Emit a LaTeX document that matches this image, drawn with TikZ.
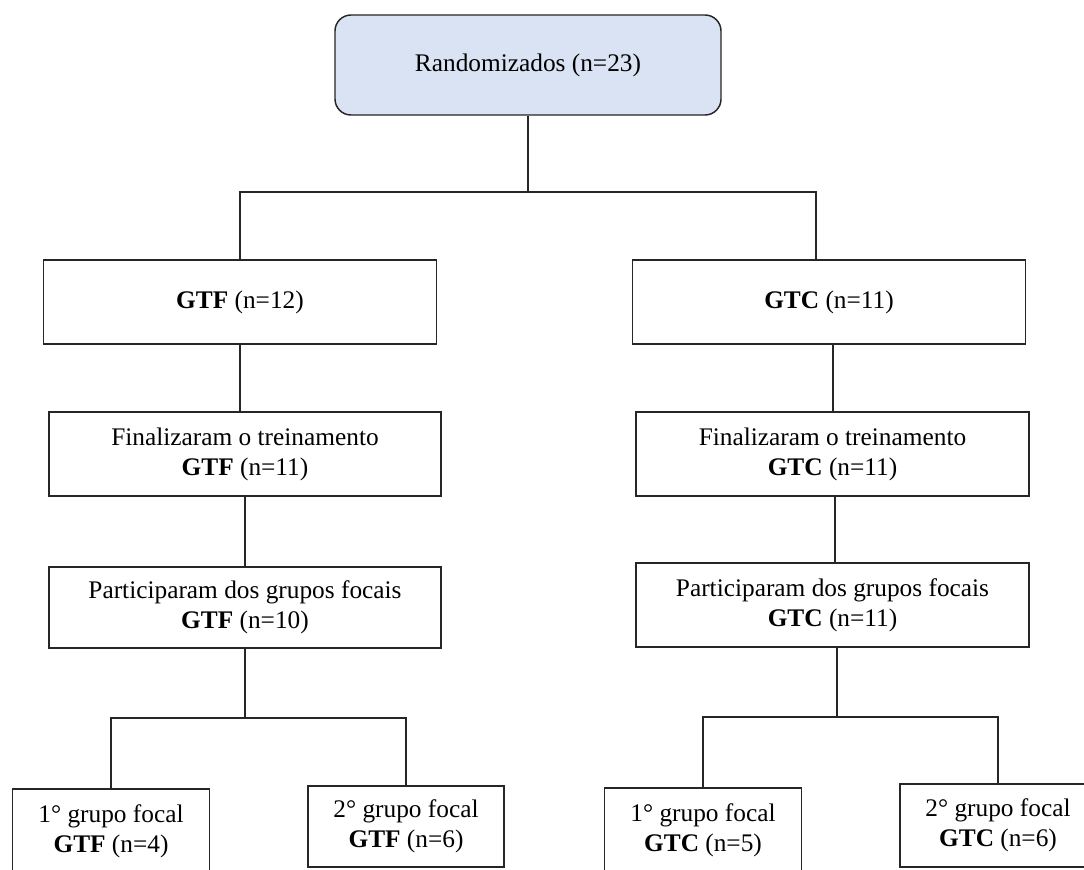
\documentclass[tikz,border=0pt]{standalone}
\usepackage{fontspec}
\setmainfont{Liberation Serif}
\definecolor{topfill}{HTML}{DAE3F3}
\begin{document}
\begin{tikzpicture}[x=0.75pt,y=-0.75pt,
  box/.style={draw=black!85, line width=1.1pt, inner sep=0pt, align=center,
    font=\fontsize{19}{22.5}\selectfont, minimum height=63pt},
  wide/.style={box, minimum width=295pt},
  small/.style={box, minimum width=148pt},
  conn/.style={draw=black!85, line width=1.1pt}]
\useasboundingbox (0,0) rectangle (1084,869);
\clip (0,0) rectangle (1084,869);
\fill[white] (0,0) rectangle (1084,869);

\node[box, fill=topfill, rounded corners=12pt, minimum width=289.5pt, minimum height=75pt] (top) at (528,65) {Randomizados (n=23)};

\node[wide] (gtf) at (240,302) {\textbf{GTF} (n=12)};
\node[wide] (gtc) at (829,302) {\textbf{GTC} (n=11)};

\node[wide, minimum width=294pt] (finF) at (245,454) {Finalizaram o treinamento\\\textbf{GTF} (n=11)};
\node[wide, minimum width=294.75pt] (finC) at (832.5,454) {Finalizaram o treinamento\\\textbf{GTC} (n=11)};

\node[wide, minimum width=294pt, minimum height=60.75pt] (parF) at (245,607.5) {Participaram dos grupos focais\\\textbf{GTF} (n=10)};
\node[wide, minimum width=294.75pt] (parC) at (832.5,605) {Participaram dos grupos focais\\\textbf{GTC} (n=11)};

\node[small] (f1F) at (111,831) {1° grupo focal\\\textbf{GTF} (n=4)};
\node[small, minimum width=147pt, minimum height=60.75pt] (f2F) at (406,826.5) {2° grupo focal\\\textbf{GTF} (n=6)};
\node[small] (f1C) at (703,830) {1° grupo focal\\\textbf{GTC} (n=5)};
\node[small, minimum width=147pt, minimum height=62.25pt] (f2C) at (998,825.5) {2° grupo focal\\\textbf{GTC} (n=6)};

\coordinate (jt) at (528,192);
\coordinate (jf) at (244,718);
\coordinate (jc) at (837,717);

\draw[conn] (top.south) -- (jt);
\draw[conn] (gtf.north) |- (jt) -| ([xshift=-9.75pt]gtc.north);

\draw[conn] (gtf.south) -- (gtf.south |- finF.north);
\draw[conn] (finF.south) -- (finF.south |- parF.north);
\draw[conn] (parF.south) -- (parF.south |- jf);
\draw[conn] (f1F.north) |- (jf) -| (f2F.north);

\draw[conn] ([xshift=3pt]gtc.south) -- ([xshift=3pt]gtc.south |- finC.north);
\draw[conn] ([xshift=1.9pt]finC.south) -- ([xshift=1.9pt]finC.south |- parC.north);
\draw[conn] (jc |- parC.south) -- (jc);
\draw[conn] (f1C.north) |- (jc) -| (f2C.north);
\end{tikzpicture}
\end{document}
